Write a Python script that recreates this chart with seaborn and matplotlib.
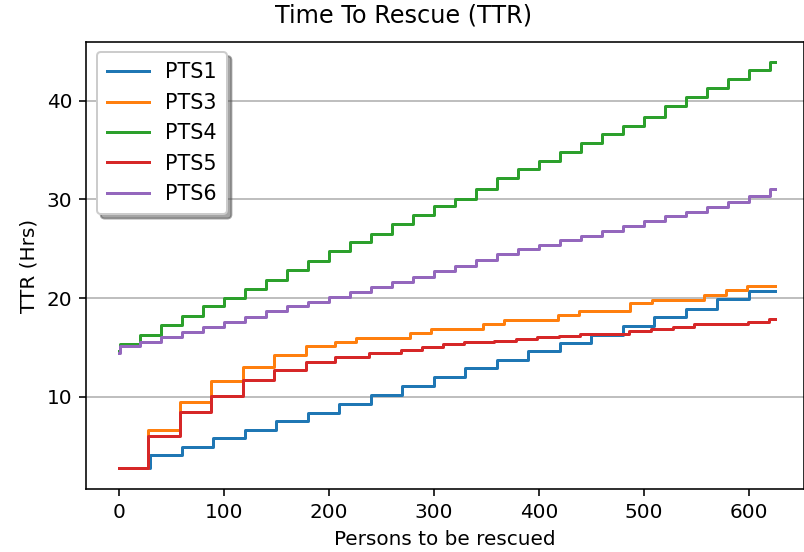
import pandas as pd
import matplotlib
matplotlib.use("Agg")
import matplotlib.pyplot as plt
import seaborn as sns

# step break points (persons) and TTR level (hrs)
pts1_x = [0, 30, 60, 90, 120, 150, 180, 210, 240, 270, 300, 330, 360, 390, 420, 450, 480, 510, 540, 570, 600]
pts1_y = [2.8, 4.1, 4.95, 5.8, 6.65, 7.5, 8.4, 9.3, 10.2, 11.05, 12.05, 12.9, 13.75, 14.6, 15.45, 16.3, 17.15,
          18.05, 18.9, 19.9, 20.75]

pts3_x = [0, 28, 58, 88, 118, 148, 178, 206, 226, 277, 297, 347, 367, 418, 438, 487, 508, 557, 578, 598]
pts3_y = [2.8, 6.65, 9.5, 11.55, 13.05, 14.25, 15.15, 15.5, 15.95, 16.5, 16.9, 17.4, 17.8, 18.25, 18.7, 19.45,
          19.85, 20.35, 20.8, 21.2]

pts4_x = [0, 1, 20, 40, 60, 80, 100, 120, 140, 160, 180, 200, 220, 240, 260, 280, 300, 320, 340, 360, 380, 400,
          420, 440, 460, 480, 500, 520, 540, 560, 580, 600, 620]
pts4_y = [14.6, 15.35, 16.27, 17.28, 18.2, 19.15, 20.0, 20.92, 21.86, 22.88, 23.8, 24.74, 25.66, 26.54, 27.46,
          28.37, 29.3, 30.05, 31.1, 32.13, 33.04, 33.91, 34.83, 35.68, 36.59, 37.43, 38.38, 39.46, 40.34, 41.26,
          42.17, 43.11, 43.95]

pts5_x = [0, 28, 58, 88, 118, 148, 178, 206, 238, 269, 289, 309, 329, 357, 378, 398, 419, 439, 486, 507, 528,
          548, 599, 619]
pts5_y = [2.8, 6.0, 8.5, 10.1, 11.7, 12.7, 13.55, 14.05, 14.4, 14.75, 15.05, 15.3, 15.5, 15.65, 15.85, 16.05,
          16.2, 16.4, 16.65, 16.9, 17.1, 17.35, 17.6, 17.85]

pts6_x = [0, 1, 20, 40, 60, 80, 100, 120, 140, 160, 180, 200, 220, 240, 260, 280, 300, 320, 340, 360, 380, 400,
          420, 440, 460, 480, 500, 520, 540, 560, 580, 600, 620]
pts6_y = [14.4, 15.1, 15.58, 16.09, 16.6, 17.11, 17.62, 18.13, 18.64, 19.15, 19.65, 20.1, 20.57, 21.12, 21.59,
          22.14, 22.71, 23.29, 23.9, 24.45, 24.93, 25.37, 25.87, 26.28, 26.78, 27.29, 27.83, 28.31, 28.74, 29.25,
          29.76, 30.33, 31.01]

last_person = 625

series = {
    "PTS1": (pts1_x, pts1_y),
    "PTS3": (pts3_x, pts3_y),
    "PTS4": (pts4_x, pts4_y),
    "PTS5": (pts5_x, pts5_y),
    "PTS6": (pts6_x, pts6_y),
}


def to_frame(xs, ys):
    df = pd.DataFrame({"persons": xs + [last_person], "ttr": ys + [ys[-1]]})
    return df


def plot_ttr():
    fig = plt.figure(figsize=(804 / 144, 552 / 144), dpi=144)
    ax = fig.add_axes([86.3 / 804, 1 - 489.3 / 552, (803.5 - 86.3) / 804, (489.3 - 41.7) / 552])

    colors = sns.color_palette("tab10")
    for i, (name, (xs, ys)) in enumerate(series.items()):
        sns.lineplot(data=to_frame(xs, ys), x="persons", y="ttr", label=name, color=colors[i],
                     drawstyle="steps-post", linewidth=1.5, ax=ax)

    ax.set_xlim(-30.8, 652)
    ax.set_ylim(0.62, 45.98)
    ax.set_xticks([0, 100, 200, 300, 400, 500, 600])
    ax.set_yticks([10, 20, 30, 40])
    ax.yaxis.grid(True, color="#b0b0b0", linewidth=0.8)
    ax.set_axisbelow(True)

    # figure-level title: sits left of the axes centre in the original
    fig.suptitle("Time To Rescue (TTR)", x=404 / 804, y=1 - 15 / 552, va="center", fontsize=12)
    ax.set_xlabel("Persons to be rescued")
    ax.set_ylabel("TTR (Hrs)")
    ax.legend(loc="upper left", shadow=True, fontsize=10.4, borderpad=0.5)

    fig.savefig("out.png", dpi=144)


if __name__ == "__main__":
    plot_ttr()
